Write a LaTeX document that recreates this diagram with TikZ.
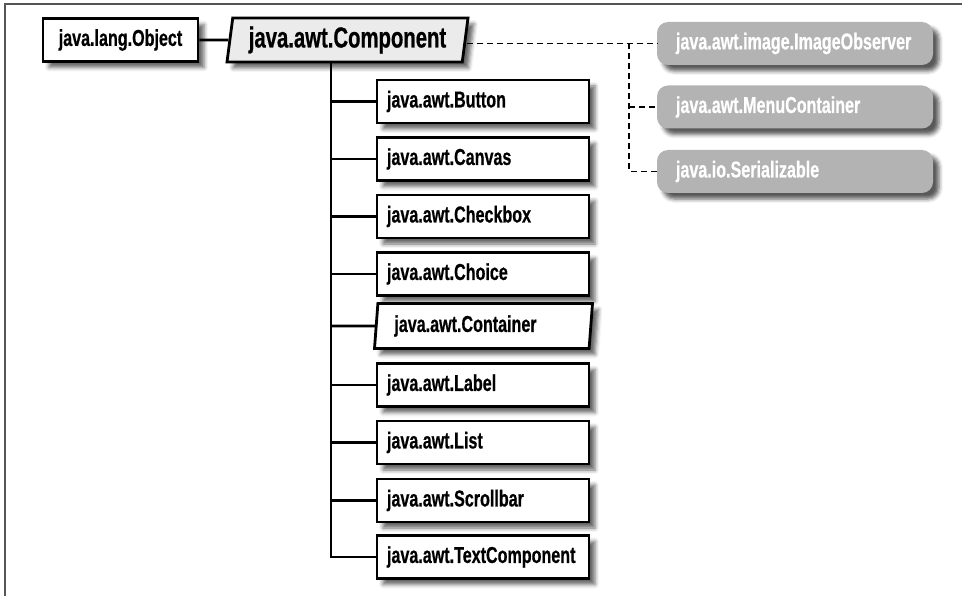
\documentclass[tikz,border=0pt]{standalone}
\usepackage{fontspec}
\newfontfamily\cf{Liberation Sans}[FakeStretch=0.7,FakeBold=0.6]
\usetikzlibrary{shapes.geometric,shadows.blur}
\definecolor{frame}{HTML}{555555}
\definecolor{compfill}{HTML}{EBEBEB}
\definecolor{ifill}{HTML}{B3B3B3}
\tikzset{
  shd/.style={blur shadow={shadow xshift=6pt, shadow yshift=-6pt, shadow blur radius=4pt, shadow opacity=60}},
  lbl/.style={font=\cf\bfseries\fontsize{23pt}{26pt}\selectfont, text=black},
  cls/.style={lbl, draw=black, line width=2.8pt, fill=white, shd, minimum height=43pt, inner sep=0pt},
  child/.style={cls, minimum width=212pt, text width=192pt, align=left, inner xsep=10pt},
  para/.style={lbl, draw=black, line width=2.8pt, shd, trapezium, trapezium stretches body, inner sep=0pt},
  iface/.style={font=\cf\bfseries\fontsize{23pt}{26pt}\selectfont, text=white, fill=ifill, rounded corners=11pt,
    minimum width=276pt, minimum height=43pt, text width=238pt, align=left, inner xsep=19pt, inner ysep=0pt,
    blur shadow={shadow xshift=6pt, shadow yshift=-6pt, shadow blur radius=4pt, shadow opacity=65}},
  conn/.style={line width=2.6pt, black},
  dsh/.style={line width=1.1pt, dash pattern=on 6pt off 4pt, black}
}
\begin{document}
\begin{tikzpicture}[x=1pt,y=-1pt]
\useasboundingbox (0,0) rectangle (962,596);
\draw[frame, line width=2pt] (5,596) -- (5,4) -- (962,4);

\node[cls, minimum width=155pt] (obj) at (120.5,40) {java.lang.Object};
\node[para, fill=compfill, minimum width=241pt, minimum height=44pt,
      font=\cf\bfseries\fontsize{29pt}{32pt}\selectfont,
      trapezium left angle=78, trapezium right angle=102] (comp) at (347.5,40) {java.awt.Component};

\node[child] (c1) at (483,101.5) {java.awt.Button};
\node[child] (c2) at (483,159) {java.awt.Canvas};
\node[child] (c3) at (483,216.5) {java.awt.Checkbox};
\node[child] (c4) at (483,274) {java.awt.Choice};
\node[para, fill=white, minimum width=218pt, minimum height=45pt,
      trapezium left angle=81, trapezium right angle=99] (c5) at (483.5,326) {\hspace*{-36pt}java.awt.Container};
\node[child] (c6) at (483,385) {java.awt.Label};
\node[child] (c7) at (483,442.5) {java.awt.List};
\node[child] (c8) at (483,500.5) {java.awt.Scrollbar};
\node[child] (c9) at (483,557) {java.awt.TextComponent};

\node[iface] (io) at (795,43.5) {java.awt.image.ImageObserver};
\node[iface] (mc) at (795,107) {java.awt.MenuContainer};
\node[iface] (ser) at (795,171.5) {java.io.Serializable};

\draw[conn] (obj.east) -- (comp);
\coordinate (tr) at (331,62);
\draw[conn] (tr) -- (tr |- c9.west) -- (c9.west);
\foreach \c in {c1,c2,c3,c4,c6,c7,c8} \draw[conn] (tr |- \c.west) -- (\c.west);
\draw[conn] (tr |- c5) -- (c5);

\coordinate (dv) at (629,43.5);
\draw[dsh] (comp.east |- io.west) -- (io.west);
\draw[dsh] (dv) |- (ser.west);
\draw[dsh] (dv |- mc.west) -- (mc.west);
\end{tikzpicture}
\end{document}
